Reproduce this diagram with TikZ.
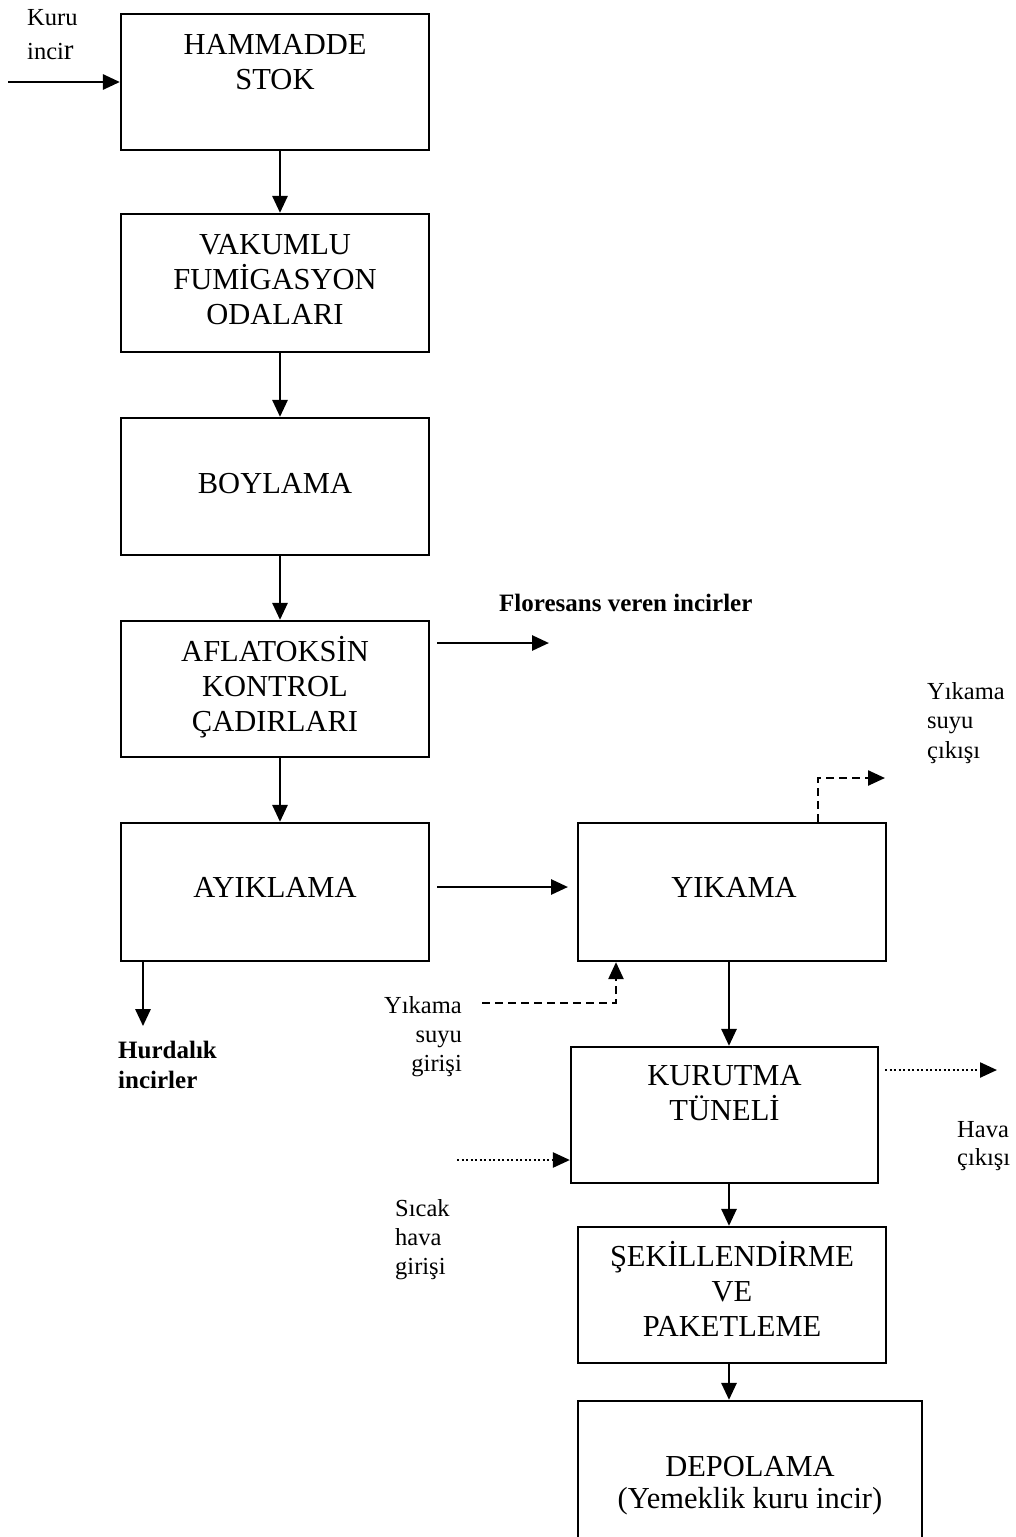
\documentclass[tikz,border=0pt]{standalone}
\usepackage{fontspec}
\setmainfont{Liberation Serif}
\usetikzlibrary{arrows.meta}
\begin{document}
\begin{tikzpicture}[x=1pt,y=-1pt,
  box/.style={draw, line width=2.2pt, inner sep=0pt},
  big/.style={font=\fontsize{30.5}{35}\selectfont, inner sep=0pt, anchor=base},
  small/.style={font=\fontsize{24.5}{29}\selectfont, inner sep=0pt, anchor=base west},
  smallr/.style={small, anchor=base east},
  boldlbl/.style={font=\fontsize{25}{30}\selectfont\bfseries, inner sep=0pt, anchor=base west},
  tip/.style={-{Triangle[length=17pt,width=15pt]}},
  flow/.style={tip, line width=2.8pt},
  dashflow/.style={tip, line width=2.4pt, dash pattern=on 8pt off 5pt},
  dotflow/.style={tip, line width=2.4pt, dash pattern=on 2pt off 2.5pt},
]
\clip (0,0) rectangle (1015,1537);
\fill[white] (0,0) rectangle (1015,1537);

% boxes
\node[box, minimum width=308pt, minimum height=136pt] (b1) at (275,82) {};
\node[box, minimum width=308pt, minimum height=138pt] (b2) at (275,283) {};
\node[box, minimum width=308pt, minimum height=137pt] (b3) at (275,486.5) {};
\node[box, minimum width=308pt, minimum height=136pt] (b4) at (275,689) {};
\node[box, minimum width=308pt, minimum height=138pt] (b5) at (275,892) {};
\node[box, minimum width=308pt, minimum height=138pt] (b6) at (732,892) {};
\node[box, minimum width=307pt, minimum height=136pt] (b7) at (724.5,1115) {};
\node[box, minimum width=308pt, minimum height=136pt] (b8) at (732,1295) {};
\node[box, minimum width=344pt, minimum height=144pt] (b9) at (750,1473) {};

% box texts
\foreach \t [count=\i from 0] in {HAMMADDE,STOK}
  \node[big] (t1-\i) at (275,54+35*\i) {\t};
\foreach \t [count=\i from 0] in {VAKUMLU,FUMİGASYON,ODALARI}
  \node[big] (t2-\i) at (275,254+35*\i) {\t};
\node[big] (t3) at (275,493) {BOYLAMA};
\foreach \t [count=\i from 0] in {AFLATOKSİN,KONTROL,ÇADIRLARI}
  \node[big] (t4-\i) at (275,661+35*\i) {\t};
\node[big] (t5) at (275,897) {AYIKLAMA};
\node[big] (t6) at (734,897) {YIKAMA};
\foreach \t [count=\i from 0] in {KURUTMA,TÜNELİ}
  \node[big] (t7-\i) at (724.5,1085+35*\i) {\t};
\foreach \t [count=\i from 0] in {ŞEKİLLENDİRME,VE,PAKETLEME}
  \node[big] (t8-\i) at (732,1266+35*\i) {\t};
\node[big] (t9-0) at (750,1476) {DEPOLAMA};
\node[big] (t9-1) at (750,1508) {(Yemeklik kuru incir)};

% side labels
\node[small] (kuru) at (27,25) {Kuru};
\node[small] (incir) at (27,59) {inci{\fontsize{29}{29}\selectfont r}};
\node[boldlbl] (flor) at (499,611) {Floresans veren incirler};
\foreach \t [count=\i from 0] in {Yıkama,suyu,çıkışı}
  \node[small] (yc-\i) at (927,699+29.5*\i) {\t};
\foreach \t [count=\i from 0] in {Yıkama,suyu,girişi}
  \node[smallr] (yg-\i) at (462,1013+29*\i) {\t};
\node[boldlbl] (hurd-0) at (118,1058) {Hurdalık};
\node[boldlbl] (hurd-1) at (118,1088) {incirler};
\foreach \t [count=\i from 0] in {Sıcak,hava,girişi}
  \node[small] (sh-\i) at (395,1216+29*\i) {\t};
\node[small] (hv-0) at (957,1137) {Hava};
\node[small] (hv-1) at (957,1165) {çıkışı};

% coordinates
\coordinate (xl) at (280,0);
\coordinate (xr) at (729,0);
\coordinate (kin) at (8,82);
\coordinate (f1) at (437,643);
\coordinate (f2) at (549,643);
\coordinate (a1) at (437,887);
\coordinate (a2) at (568,887);
\coordinate (ysin) at (482,1003);
\coordinate (ysout) at (885,778);
\coordinate (shin) at (457,1160);
\coordinate (hc1) at (885,1070);
\coordinate (hc2) at (997,1070);

% connectors
\draw[flow] (kin) -- (kin -| b1.west);
\draw[flow] (b1.south -| xl) -- (b2.north -| xl);
\draw[flow] (b2.south -| xl) -- (b3.north -| xl);
\draw[flow] (b3.south -| xl) -- (b4.north -| xl);
\draw[flow] (b4.south -| xl) -- (b5.north -| xl);
\draw[flow] (f1) -- (f2);
\draw[flow] (a1) -- (a2);
\draw[flow] ([xshift=-132pt]b5.south) -- ++(0,64);
\draw[dashflow] (ysin) -| ([xshift=-116pt]b6.south);
\draw[dashflow] ([xshift=86pt]b6.north) |- (ysout);
\draw[flow] (b6.south -| xr) -- (b7.north -| xr);
\draw[dotflow] (shin) -- (shin -| b7.west);
\draw[dotflow] (hc1) -- (hc2);
\draw[flow] (b7.south -| xr) -- (b8.north -| xr);
\draw[flow] (b8.south -| xr) -- (b9.north -| xr);
\end{tikzpicture}
\end{document}
